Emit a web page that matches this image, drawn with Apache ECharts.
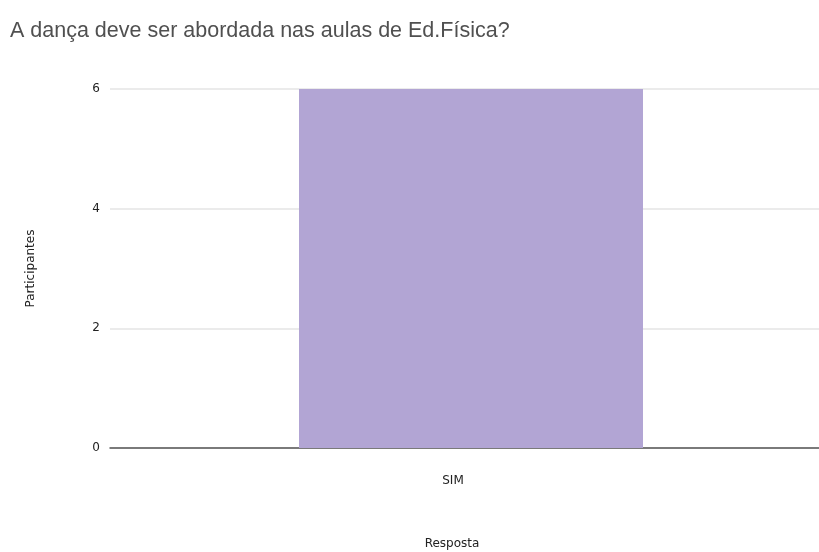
<!DOCTYPE html>
<html>
<head>
<meta charset="utf-8">
<script src="https://cdn.jsdelivr.net/npm/echarts@6/dist/echarts.min.js"></script>
<style>html,body{margin:0;padding:0;background:#fff}#c{width:819px;height:552px}</style>
</head>
<body>
<div id="c"></div>
<script>
const titleText = "A dança deve ser abordada nas aulas de Ed.Física?";
const categories = ["SIM"];
const values = [6];
const yTicks = [0, 2, 4, 6];
const xAxisName = "Resposta";
const yAxisName = "Participantes";

const chart = echarts.init(document.getElementById('c'), null, {renderer: 'canvas'});
chart.setOption({
  animation: false,
  backgroundColor: '#ffffff',
  title: {
    text: titleText,
    left: 10, top: 20, padding: 0,
    textStyle: {fontFamily: 'Liberation Sans', fontSize: 21.5, fontWeight: 'normal', color: '#505050'}
  },
  grid: {left: 110, width: 722, top: 89, bottom: 104, containLabel: false, outerBoundsMode: 'none'},
  xAxis: {
    type: 'category',
    data: categories,
    name: xAxisName,
    nameLocation: 'middle',
    nameGap: 90,
    nameTextStyle: {fontFamily: 'DejaVu Sans', fontSize: 12, color: '#222', padding: [0, 38, 0, 0]},
    axisLine: {lineStyle: {color: '#555', width: 1.5}},
    axisTick: {show: false},
    axisLabel: {fontFamily: 'DejaVu Sans', fontSize: 12, color: '#222', margin: 27, padding: [0, 36, 0, 0]}
  },
  yAxis: {
    type: 'value',
    min: yTicks[0], max: yTicks[yTicks.length - 1], interval: 2,
    name: yAxisName,
    nameLocation: 'middle',
    nameGap: 73,
    nameRotate: 90,
    nameTextStyle: {fontFamily: 'DejaVu Sans', fontSize: 12, color: '#222'},
    axisLine: {show: false},
    axisTick: {show: false},
    axisLabel: {fontFamily: 'DejaVu Sans', fontSize: 12, color: '#222', margin: 10},
    splitLine: {lineStyle: {color: '#e4e4e4', width: 1.5}}
  },
  series: [{
    type: 'bar',
    data: values,
    barWidth: 344,
    itemStyle: {color: '#b2a5d4'}
  }]
});
</script>
</body>
</html>
